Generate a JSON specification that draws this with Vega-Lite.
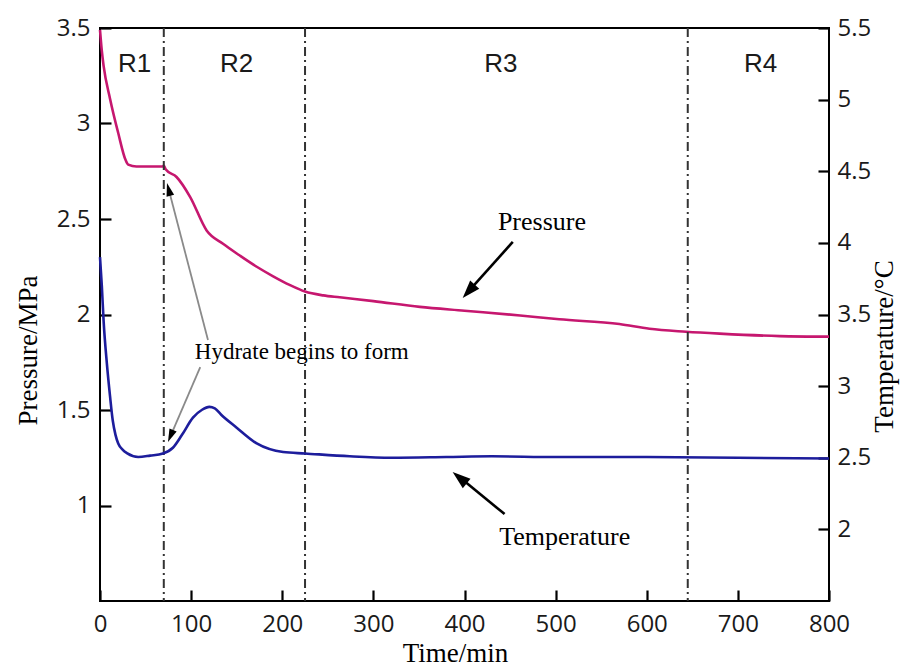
{
  "$schema": "https://vega.github.io/schema/vega-lite/v6.json",
  "width": 729,
  "height": 573,
  "autosize": {"type": "none"},
  "padding": {"left": 100, "top": 28, "right": 85, "bottom": 65},
  "background": "white",
  "config": {
    "view": {"stroke": "black", "strokeWidth": 2},
    "axis": {
      "grid": false,
      "domain": false,
      "ticks": true,
      "offset": -11,
      "tickColor": "black",
      "tickOpacity": 1,
      "tickWidth": 2.2,
      "tickSize": 11,
      "zindex": 1,
      "labelFont": "Open Sans",
      "labelFontSize": 24,
      "labelColor": "#1a1a1a",
      "labelFlush": false,
      "labelOverlap": false,
      "labelBound": false,
      "titleFont": "Liberation Serif",
      "titleFontSize": 27,
      "titleFontWeight": "normal",
      "titleColor": "black"
    }
  },
  "datasets": {
    "pressure": [
      {"t": 0, "p": 3.49}, {"t": 2, "p": 3.38}, {"t": 4, "p": 3.3}, {"t": 11, "p": 3.13},
      {"t": 20, "p": 2.95}, {"t": 28, "p": 2.81}, {"t": 31, "p": 2.785}, {"t": 40, "p": 2.775},
      {"t": 55, "p": 2.775}, {"t": 69, "p": 2.775}, {"t": 70, "p": 2.78}, {"t": 72, "p": 2.76},
      {"t": 84, "p": 2.72}, {"t": 99, "p": 2.615}, {"t": 117, "p": 2.44}, {"t": 135, "p": 2.37},
      {"t": 153, "p": 2.31}, {"t": 172, "p": 2.25}, {"t": 190, "p": 2.2}, {"t": 208, "p": 2.155},
      {"t": 225, "p": 2.12}, {"t": 245, "p": 2.1}, {"t": 263, "p": 2.09}, {"t": 300, "p": 2.07},
      {"t": 351, "p": 2.04}, {"t": 400, "p": 2.02}, {"t": 461, "p": 1.995}, {"t": 504, "p": 1.975},
      {"t": 570, "p": 1.95}, {"t": 603, "p": 1.925}, {"t": 643, "p": 1.91}, {"t": 680, "p": 1.9},
      {"t": 746, "p": 1.887}, {"t": 800, "p": 1.884}
    ],
    "temperature": [
      {"t": 0, "T": 3.9}, {"t": 2, "T": 3.7}, {"t": 4, "T": 3.45}, {"t": 7.5, "T": 3.16},
      {"t": 11, "T": 2.93}, {"t": 14, "T": 2.76}, {"t": 17, "T": 2.66}, {"t": 20, "T": 2.6},
      {"t": 25, "T": 2.555}, {"t": 30, "T": 2.53},
      {"t": 42, "T": 2.505}, {"t": 55, "T": 2.515}, {"t": 69, "T": 2.53}, {"t": 80, "T": 2.57},
      {"t": 90, "T": 2.66}, {"t": 102, "T": 2.78}, {"t": 112, "T": 2.835}, {"t": 120, "T": 2.855},
      {"t": 126, "T": 2.845}, {"t": 133, "T": 2.8}, {"t": 150, "T": 2.71}, {"t": 172, "T": 2.6},
      {"t": 201, "T": 2.54}, {"t": 225, "T": 2.53}, {"t": 274, "T": 2.51}, {"t": 320, "T": 2.5},
      {"t": 380, "T": 2.505}, {"t": 430, "T": 2.51}, {"t": 500, "T": 2.505}, {"t": 600, "T": 2.505},
      {"t": 700, "T": 2.5}, {"t": 800, "T": 2.495}
    ],
    "boundaries": [{"t": 70}, {"t": 225}, {"t": 645}],
    "regions": [
      {"t": 38, "p": 3.31, "label": "R1"},
      {"t": 150, "p": 3.31, "label": "R2"},
      {"t": 440, "p": 3.31, "label": "R3"},
      {"t": 725, "p": 3.31, "label": "R4"}
    ],
    "bigLabels": [
      {"t": 485, "p": 2.484, "label": "Pressure"},
      {"t": 510, "p": 0.835, "label": "Temperature"}
    ],
    "hydrateLabel": [{"t": 104, "p": 1.804, "label": "Hydrate begins to form"}],
    "blackArrows": [
      {"t": 453, "p": 2.38, "t2": 404.6, "p2": 2.122, "tt": 398, "tp": 2.086, "angle": 222},
      {"t": 444, "p": 0.955, "t2": 395, "p2": 1.146, "tt": 387, "tp": 1.175, "angle": 309}
    ],
    "grayArrows": [
      {"t": 118.5, "p": 1.866, "t2": 75.5, "p2": 2.653, "tt": 73.5, "tp": 2.688, "angle": 345},
      {"t": 110, "p": 1.725, "t2": 77.6, "p2": 1.366, "tt": 74.6, "tp": 1.333, "angle": 203}
    ]
  },
  "layer": [
    {
      "layer": [
        {
          "data": {"name": "pressure"},
          "mark": {"type": "line", "color": "#c6176f", "strokeWidth": 2.6, "interpolate": "monotone"},
          "encoding": {
            "x": {
              "field": "t", "type": "quantitative",
              "scale": {"domain": [0, 800], "nice": false},
              "axis": {
                "title": "Time/min",
                "values": [0, 100, 200, 300, 400, 500, 600, 700, 800],
                "labelPadding": 11,
                "titleX": 355, "titleY": 63,
                "titleAlign": "center", "titleBaseline": "middle"
              }
            },
            "y": {
              "field": "p", "type": "quantitative",
              "scale": {"domain": [0.5, 3.5], "nice": false, "zero": false},
              "axis": {
                "orient": "left",
                "title": "Pressure/MPa",
                "values": [1, 1.5, 2, 2.5, 3, 3.5],
                "labelExpr": "'' + datum.value",
                "labelPadding": 10,
                "titleX": -83, "titleY": 322, "titleAngle": 270,
                "titleAlign": "center", "titleBaseline": "middle"
              }
            }
          }
        },
        {
          "data": {"name": "boundaries"},
          "mark": {"type": "rule", "color": "#333333", "strokeWidth": 2, "strokeDash": [9, 4, 2, 4]},
          "encoding": {
            "x": {"field": "t", "type": "quantitative", "scale": {"domain": [0, 800], "nice": false}}
          }
        },
        {
          "data": {"name": "regions"},
          "mark": {"type": "text", "font": "Liberation Sans", "fontSize": 26, "color": "#1a1a1a", "align": "center", "baseline": "middle"},
          "encoding": {
            "x": {"field": "t", "type": "quantitative", "scale": {"domain": [0, 800], "nice": false}},
            "y": {"field": "p", "type": "quantitative", "scale": {"domain": [0.5, 3.5], "nice": false, "zero": false}},
            "text": {"field": "label"}
          }
        },
        {
          "data": {"name": "bigLabels"},
          "mark": {"type": "text", "font": "Liberation Serif", "fontSize": 26, "color": "black", "align": "center", "baseline": "middle"},
          "encoding": {
            "x": {"field": "t", "type": "quantitative", "scale": {"domain": [0, 800], "nice": false}},
            "y": {"field": "p", "type": "quantitative", "scale": {"domain": [0.5, 3.5], "nice": false, "zero": false}},
            "text": {"field": "label"}
          }
        },
        {
          "data": {"name": "hydrateLabel"},
          "mark": {"type": "text", "font": "Liberation Serif", "fontSize": 23, "color": "black", "align": "left", "baseline": "middle"},
          "encoding": {
            "x": {"field": "t", "type": "quantitative", "scale": {"domain": [0, 800], "nice": false}},
            "y": {"field": "p", "type": "quantitative", "scale": {"domain": [0.5, 3.5], "nice": false, "zero": false}},
            "text": {"field": "label"}
          }
        },
        {
          "data": {"name": "blackArrows"},
          "mark": {"type": "rule", "color": "black", "strokeWidth": 2.6},
          "encoding": {
            "x": {"field": "t", "type": "quantitative", "scale": {"domain": [0, 800], "nice": false}},
            "y": {"field": "p", "type": "quantitative", "scale": {"domain": [0.5, 3.5], "nice": false, "zero": false}},
            "x2": {"field": "t2"},
            "y2": {"field": "p2"}
          }
        },
        {
          "data": {"name": "blackArrows"},
          "mark": {"type": "point", "shape": "M0,0L-0.34,1L0.34,1Z", "filled": true, "color": "black", "opacity": 1, "size": 1296},
          "encoding": {
            "x": {"field": "tt", "type": "quantitative", "scale": {"domain": [0, 800], "nice": false}},
            "y": {"field": "tp", "type": "quantitative", "scale": {"domain": [0.5, 3.5], "nice": false, "zero": false}},
            "angle": {"field": "angle", "type": "quantitative", "scale": null}
          }
        },
        {
          "data": {"name": "grayArrows"},
          "mark": {"type": "rule", "color": "#8a8a8a", "strokeWidth": 1.8},
          "encoding": {
            "x": {"field": "t", "type": "quantitative", "scale": {"domain": [0, 800], "nice": false}},
            "y": {"field": "p", "type": "quantitative", "scale": {"domain": [0.5, 3.5], "nice": false, "zero": false}},
            "x2": {"field": "t2"},
            "y2": {"field": "p2"}
          }
        },
        {
          "data": {"name": "grayArrows"},
          "mark": {"type": "point", "shape": "M0,0L-0.3,1L0.3,1Z", "filled": true, "color": "black", "opacity": 1, "size": 676},
          "encoding": {
            "x": {"field": "tt", "type": "quantitative", "scale": {"domain": [0, 800], "nice": false}},
            "y": {"field": "tp", "type": "quantitative", "scale": {"domain": [0.5, 3.5], "nice": false, "zero": false}},
            "angle": {"field": "angle", "type": "quantitative", "scale": null}
          }
        }
      ]
    },
    {
      "data": {"name": "temperature"},
      "mark": {"type": "line", "color": "#1d1d9c", "strokeWidth": 2.6, "interpolate": "monotone"},
      "encoding": {
        "x": {"field": "t", "type": "quantitative", "scale": {"domain": [0, 800], "nice": false}},
        "y": {
          "field": "T", "type": "quantitative",
          "scale": {"domain": [1.5, 5.5], "nice": false, "zero": false},
          "axis": {
            "orient": "right",
            "title": "Temperature/°C",
            "values": [2, 2.5, 3, 3.5, 4, 4.5, 5, 5.5],
            "labelExpr": "'' + datum.value",
            "labelPadding": 8,
            "titleX": 66, "titleY": 318, "titleAngle": 270,
            "titleAlign": "center", "titleBaseline": "middle"
          }
        }
      }
    }
  ],
  "resolve": {"scale": {"y": "independent"}}
}
